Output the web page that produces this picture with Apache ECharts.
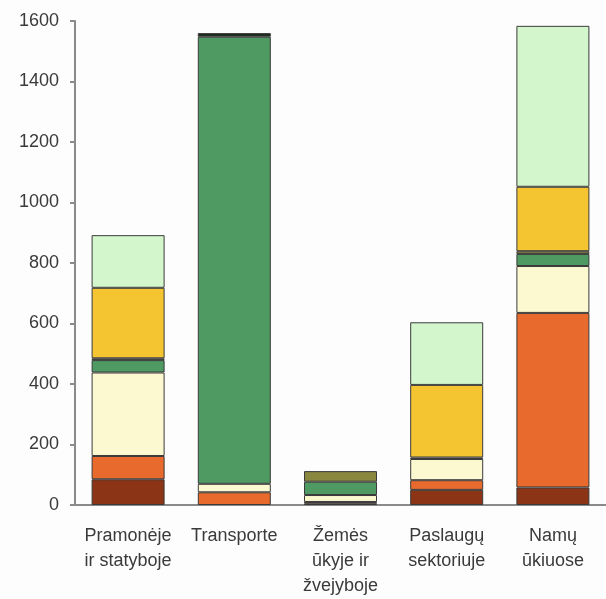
<!DOCTYPE html>
<html>
<head>
<meta charset="utf-8">
<script src="https://cdn.jsdelivr.net/npm/echarts@6/dist/echarts.min.js"></script>
<style>
    html, body {margin: 0; padding: 0; background: #fdfdfd;}
    #chart {width: 606px; height: 599px;}
</style>
</head>
<body>
<div id="chart"></div>
<script>
// categories (x axis)
var categories = ['Pramonėje\nir statyboje', 'Transporte', 'Žemės\nūkyje ir\nžvejyboje', 'Paslaugų\nsektoriuje', 'Namų\nūkiuose'];

// stacked segments, bottom to top
var darkRed = [85, 0, 4, 50, 58];
var orange = [77, 42, 6, 32, 577];
var cream = [276, 28, 23, 70, 155];
var green = [41, 1478, 44, 0, 40];
var olive = [6, 0, 35, 5, 9];
var gold = [233, 0, 0, 240, 213];
var lightGreen = [174, 0, 0, 207, 532];
var black = [0, 12, 0, 0, 0];

var yTicks = [0, 200, 400, 600, 800, 1000, 1200, 1400, 1600];

var myChart = echarts.init(document.getElementById('chart'));

var layers = [
    {name: 'darkRed', data: darkRed, color: '#8c3416'},
    {name: 'orange', data: orange, color: '#e86a2c'},
    {name: 'cream', data: cream, color: '#fcf8d0'},
    {name: 'green', data: green, color: '#4f9963'},
    {name: 'olive', data: olive, color: '#8a8740'},
    {name: 'gold', data: gold, color: '#f4c531'},
    {name: 'lightGreen', data: lightGreen, color: '#d4f6cd'},
    {name: 'black', data: black, color: '#1b2a1c'}
];

var series = [];
for (var i = 0; i < layers.length; i++) {
    series.push({
        name: layers[i].name,
        type: 'bar',
        stack: 'total',
        barWidth: 73,
        data: layers[i].data.map(function (v) { return v === 0 ? '-' : v; }),
        itemStyle: {color: layers[i].color, borderColor: '#3a3a3a', borderWidth: 1},
        emphasis: {disabled: true}
    });
}

var option = {
    animation: false,
    backgroundColor: '#fdfdfd',
    grid: {left: 75, right: -6, top: 21, bottom: 90},
    xAxis: {
        type: 'category',
        data: categories,
        axisLine: {lineStyle: {color: '#8a8a8a', width: 2}},
        axisTick: {length: 5, lineStyle: {color: '#8a8a8a', width: 2}},
        axisLabel: {
            color: '#3a3a3a',
            fontFamily: 'Liberation Sans',
            fontSize: 18,
            lineHeight: 25,
            margin: 19,
            interval: 0
        }
    },
    yAxis: {
        type: 'value',
        min: yTicks[0],
        max: yTicks[yTicks.length - 1],
        interval: yTicks[1] - yTicks[0],
        splitLine: {show: false},
        axisLine: {show: true, lineStyle: {color: '#8a8a8a', width: 2}},
        axisTick: {show: true, length: 5, lineStyle: {color: '#8a8a8a', width: 2}},
        axisLabel: {
            color: '#3a3a3a',
            fontFamily: 'Liberation Sans',
            fontSize: 18,
            margin: 16,
            formatter: function (v) { return String(v); }
        }
    },
    series: series
};

myChart.setOption(option);
</script>
</body>
</html>
